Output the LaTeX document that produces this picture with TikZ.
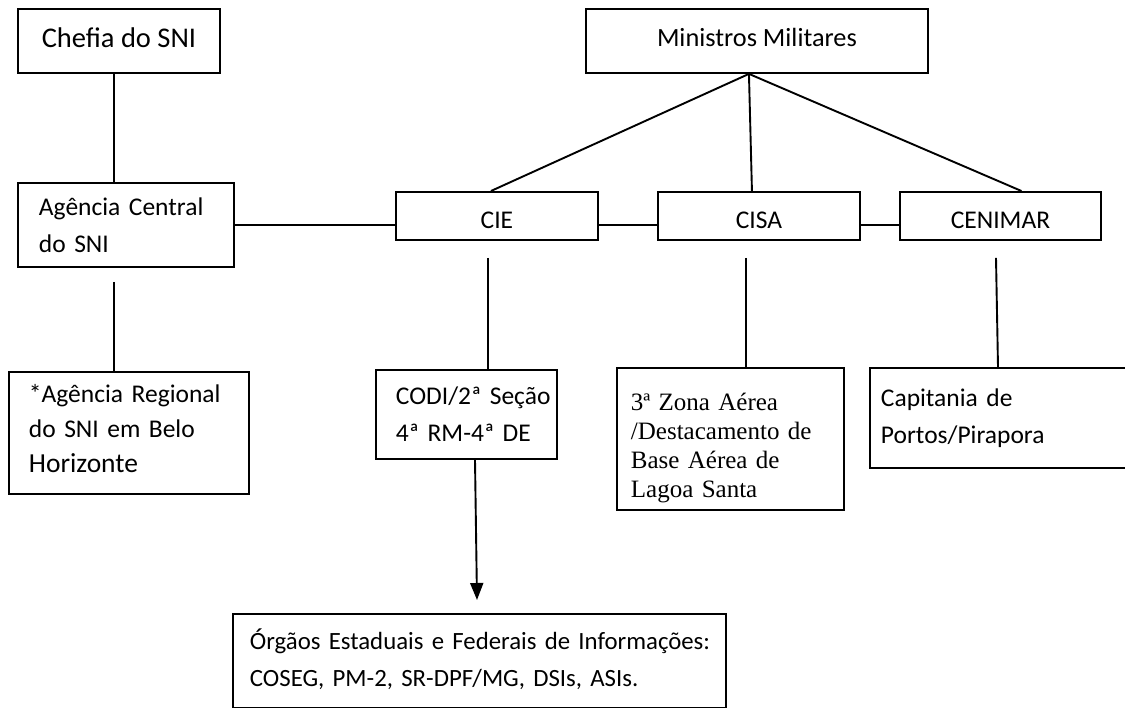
\documentclass[tikz,border=0pt]{standalone}
\usepackage{fontspec}
\setmainfont{Carlito}
\newfontfamily\timesf{Liberation Serif}
\usetikzlibrary{arrows.meta,calc}
\begin{document}
\begin{tikzpicture}[x=1pt,y=-1pt,
  box/.style={draw, line width=1.9pt, inner sep=0pt, anchor=north west,
    font=\fontsize{25.5}{37}\selectfont},
  lbox/.style={box, align=left},
  conn/.style={line width=1.9pt},
]
\useasboundingbox (0,0) rectangle (1125,708);
\clip (0,0) rectangle (1125,708);

% top row
\node[box, minimum width=202pt, minimum height=64pt] (chefia) at (17,8)
  {\fontsize{28.5}{34}\selectfont Chefia do SNI\rule[-6pt]{0pt}{0pt}};
\node[box, minimum width=342pt, minimum height=64pt] (min) at (585,8)
  {\fontsize{26.3}{34}\selectfont Ministros Militares\rule[-8pt]{0pt}{0pt}};

% middle row
\node[lbox, minimum height=84pt, text width=174pt, inner xsep=21pt] (agc) at (17,182)
  {\mbox{Agência Central}\\\mbox{do SNI}};
\node[box, minimum width=202pt, minimum height=48pt] (cie) at (395,191) {\rule{0pt}{26pt}CIE};
\node[box, minimum width=202pt, minimum height=48pt] (cisa) at (657,191) {\rule{0pt}{26pt}CISA};
\node[box, minimum width=201pt, minimum height=48pt] (cen) at (899,191) {\rule{0pt}{26pt}CENIMAR};

% bottom row
\node[lbox, minimum height=122pt, text width=200pt, inner xsep=20pt,
  font=\fontsize{25.5}{35}\selectfont] (reg) at (8,371)
  {\mbox{*Agência Regional}\\\mbox{do SNI em Belo}\\\mbox{\fontsize{27.5}{35}\selectfont Horizonte}\rule[-10pt]{0pt}{0pt}};
\node[lbox, minimum height=89pt, text width=141pt, inner xsep=20pt] (codi) at (375,369)
  {\mbox{CODI/2ª Seção}\\\mbox{4ª RM-4ª DE}};
\node[lbox, minimum height=142pt, text width=199pt, inner xsep=14pt,
  font=\timesf\fontsize{25}{29}\selectfont] (zona) at (616,367)
  {\rule{0pt}{35pt}\mbox{3ª Zona Aérea}\\\mbox{/Destacamento de}\\\mbox{Base Aérea de}\\\mbox{Lagoa Santa}};
\node[lbox, minimum height=100pt, text width=238pt, inner xsep=11pt] (cap) at (869,367)
  {\mbox{Capitania de}\\\mbox{Portos/Pirapora}};
\node[lbox, minimum height=94pt, text width=459pt, inner xsep=17pt,
  font=\fontsize{24.8}{37}\selectfont] (org) at (232,613)
  {\mbox{Órgãos Estaduais e Federais de Informações:}\\\mbox{COSEG, PM-2, SR-DPF/MG, DSIs, ASIs.}\rule[-6pt]{0pt}{0pt}};

% helper coordinates
\coordinate (xa) at (114,0);
\coordinate (xc) at (488,0);
\coordinate (xs) at (746,0);
\coordinate (xn) at (996,0);
\coordinate (xm) at (998,0);
\coordinate (xr) at (475,0);
\coordinate (ap) at ([xshift=-8pt]min.south);
\coordinate (tip) at (477,600);

% connectors
\draw[conn] (chefia.south -| xa) -- (agc.north -| xa);
\draw[conn] (agc.east) -- (agc.east -| cie.west);
\draw[conn] (agc.east -| cie.east) -- (agc.east -| cisa.west);
\draw[conn] (agc.east -| cisa.east) -- (agc.east -| cen.west);

\draw[conn] (ap) -- ([xshift=-6pt]cie.north);
\draw[conn] (ap) -- ([xshift=-7pt]cisa.north);
\draw[conn] (ap) -- ([xshift=21pt]cen.north);

\draw[conn] ([yshift=-14pt]agc.south -| xa) -- (reg.north -| xa);
\draw[conn] ([yshift=-17pt]cie.south -| xc) -- (codi.north -| xc);
\draw[conn] ([yshift=-17pt]cisa.south -| xs) -- (zona.north -| xs);
\draw[conn] ([yshift=-17pt]cen.south -| xn) -- (cap.north -| xm);

\draw[conn, -{Triangle[length=17pt,width=13pt]}] (codi.south -| xr) -- (tip);
\end{tikzpicture}
\end{document}
